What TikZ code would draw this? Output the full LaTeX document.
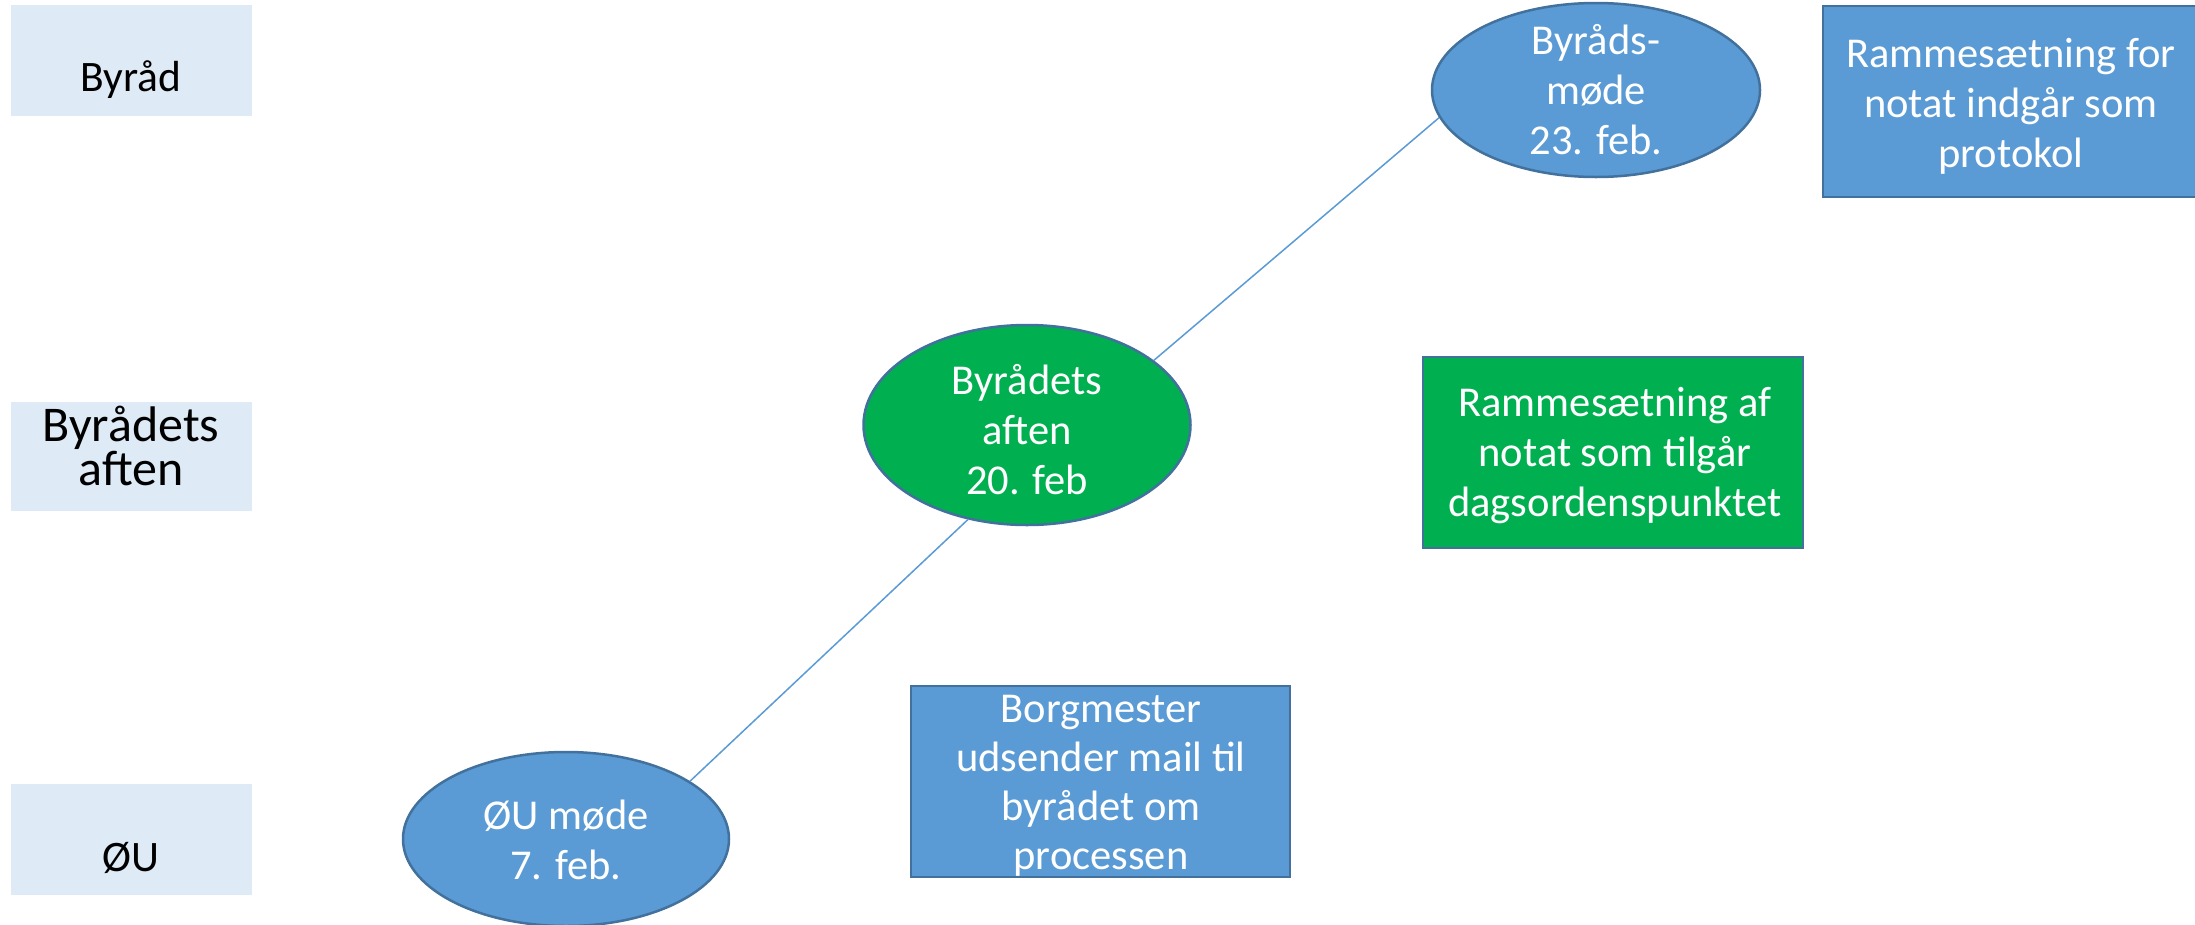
\documentclass[tikz,border=0pt]{standalone}
\usepackage{fontspec}
\setmainfont{Carlito}
\usetikzlibrary{shapes.geometric}
\definecolor{lanefill}{HTML}{DEEAF6}
\definecolor{boxblue}{HTML}{5B9BD5}
\definecolor{edgeblue}{HTML}{41719C}
\definecolor{boxgreen}{HTML}{00B050}
\definecolor{linkblue}{HTML}{5B9BD5}
\tikzset{
  lane/.style={fill=lanefill, draw=none},
  lanetxt/.style={font=\fontsize{43.5}{50}\selectfont, text=black, inner sep=0pt, anchor=base},
  ell/.style={ellipse, draw=edgeblue, line width=2.5pt, inner sep=0pt},
  card/.style={draw=edgeblue, line width=2.5pt},
  wtxt/.style={font=\fontsize{42.5}{50}\selectfont, text=white, align=center, inner sep=0pt},
  conn/.style={draw=linkblue, line width=1.5pt}
}
\begin{document}
\begin{tikzpicture}[x=1pt,y=-1pt]
\clip (0,0) rectangle (2195,924);
\useasboundingbox (0,0) rectangle (2195,924);
\fill[white] (0,0) rectangle (2195,924);
% lane labels
\path[lane] (11,5) rectangle (252,116);
\node[lanetxt] (l1) at (131,91) {Byråd};
\path[lane] (11,402) rectangle (252,511);
\node[font=\fontsize{50}{44}\selectfont, text=black, align=center, inner sep=0pt] (l2) at (131,446) {Byrådets\\aften};
\path[lane] (11,784) rectangle (252,895);
\node[lanetxt] (l3) at (131,871) {ØU};
% ellipses
\node[ell, fill=boxblue, minimum width=328pt, minimum height=174pt] (bm) at (1596,90) {};
\node[wtxt] (bmt) at (1596,90) {Byråds-\\møde\\23. feb.};
\node[ell, fill=boxgreen, minimum width=327pt, minimum height=200pt] (ga) at (1027,425) {};
\node[wtxt] (gat) at (1027,430) {Byrådets\\aften\\20. feb};
\node[ell, fill=boxblue, minimum width=326pt, minimum height=174pt] (ou) at (566,839) {};
\node[wtxt] (out) at (566,840) {ØU møde\\7. feb.};
% connectors
\draw[conn] (ou.25) -- (ga.238);
\draw[conn] (ga.27) -- (bm.190);
% boxes
\path[card, fill=boxblue] (1823,6) rectangle (2200,197);
\node[wtxt] (rp) at (2011,106) {Rammesætning for\\notat indgår som\\protokol};
\path[card, fill=boxgreen] (1423,357) rectangle (1803,548);
\node[wtxt] (rd) at (1615,456) {Rammesætning af\\notat som tilgår\\dagsordenspunktet};
\begin{scope}
\path[card, fill=boxblue] (911,686) rectangle (1290,877);
\clip (911,686) rectangle (1290,877);
\node[wtxt, font=\fontsize{42.5}{49}\selectfont] (bg) at (1101,786) {Borgmester\\udsender mail til\\byrådet om\\processen};
\end{scope}
\end{tikzpicture}
\end{document}
